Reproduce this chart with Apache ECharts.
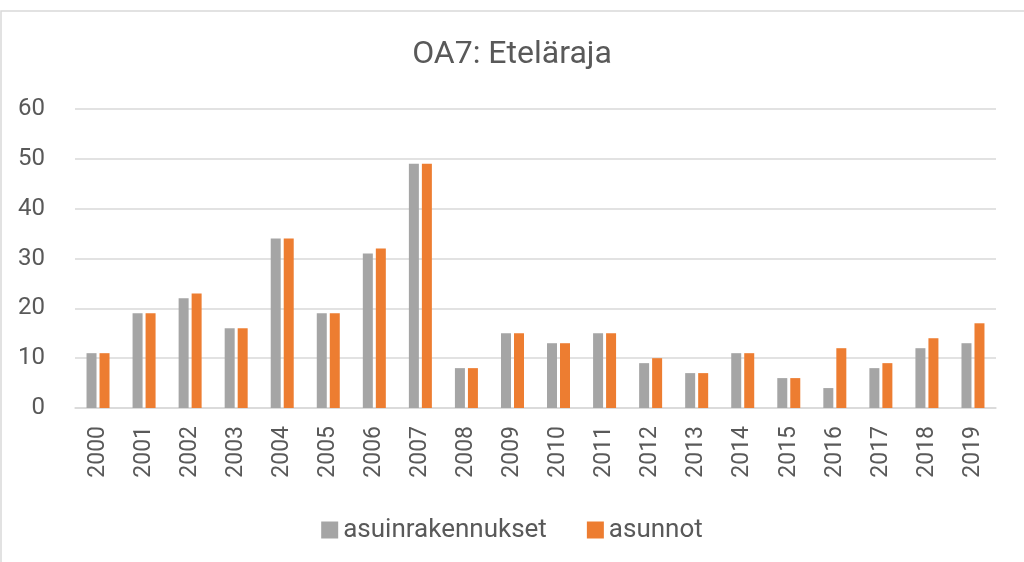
<!DOCTYPE html>
<html>
<head>
<meta charset="utf-8">
<script src="https://cdn.jsdelivr.net/npm/echarts@6/dist/echarts.min.js"></script>
<style>
html,body{margin:0;padding:0;background:#fff;}
#c{width:1024px;height:562px;}
</style>
</head>
<body>
<div id="c"></div>
<script>
const titleText = "OA7: Eteläraja";
const categories = ["2000","2001","2002","2003","2004","2005","2006","2007","2008","2009","2010","2011","2012","2013","2014","2015","2016","2017","2018","2019"];
const seriesNames = ["asuinrakennukset","asunnot"];
const asuinrakennukset = [11,19,22,16,34,19,31,49,8,15,13,15,9,7,11,6,4,8,12,13];
const asunnot = [11,19,23,16,34,19,32,49,8,15,13,15,10,7,11,6,12,9,14,17];
const yTicks = {min:0, max:60, interval:10};

const textColor = '#595959';
const chart = echarts.init(document.getElementById('c'), null, {renderer:'canvas'});
chart.setOption({
  backgroundColor:'#fff',
  animation:false,
  textStyle:{fontFamily:'Roboto'},
  title:{text:titleText, left:'center', top:34,
    textStyle:{fontFamily:'Roboto', fontSize:32, fontWeight:'normal', color:textColor}},
  graphic:[{type:'rect', shape:{x:1, y:11, width:1100, height:700},
    style:{fill:'none', stroke:'#d9d9d9', lineWidth:1.5}, silent:true}],
  grid:{left:75, right:28, top:109, bottom:154},
  legend:{bottom:14, left:'center', itemWidth:17, itemHeight:17, itemGap:40,
    icon:'rect',
    textStyle:{fontFamily:'Roboto', fontSize:26, color:textColor}},
  xAxis:{type:'category', data:categories,
    axisLine:{lineStyle:{color:'#d9d9d9', width:1.5}},
    axisTick:{show:false},
    axisLabel:{rotate:90, fontSize:23, color:textColor, margin:18, fontFamily:'Roboto'}},
  yAxis:{type:'value', min:yTicks.min, max:yTicks.max, interval:yTicks.interval,
    axisLine:{show:false}, axisTick:{show:false},
    splitLine:{lineStyle:{color:'#d9d9d9', width:1.5}},
    axisLabel:{fontSize:24, color:textColor, margin:30, fontFamily:'Roboto'}},
  series:[
    {name:seriesNames[0], type:'bar', data:asuinrakennukset, barWidth:10, barGap:'30%',
      itemStyle:{color:'#A5A5A5'}},
    {name:seriesNames[1], type:'bar', data:asunnot, barWidth:10,
      itemStyle:{color:'#ED7D31'}}
  ]
});
</script>
</body>
</html>
